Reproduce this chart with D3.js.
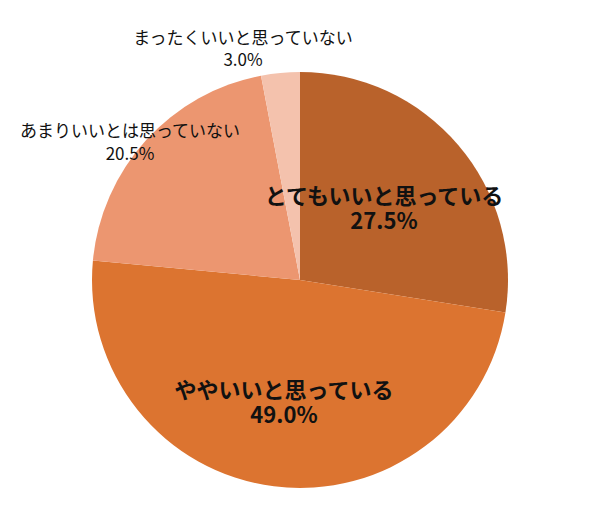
<!DOCTYPE html>
<html>
<head>
<meta charset="utf-8">
<script src="https://cdn.jsdelivr.net/npm/d3@7"></script>
<style>
  body { margin: 0; background: #fff; }
  text { font-family: "Noto Sans CJK JP", "Noto Sans", sans-serif; fill: #111; }
</style>
</head>
<body>
<div id="pie-chart"></div>
<script>
var width = 600;
var height = 512;

var categories = ["とてもいいと思っている", "ややいいと思っている", "あまりいいとは思っていない", "まったくいいと思っていない"];
var values = [27.5, 49.0, 20.5, 3.0];
var colors = ["#b9622b", "#dc7430", "#ec9670", "#f4c2ad"];

var cx = 300, cy = 280, radius = 208;

var svg = d3.select("#pie-chart")
    .append("svg")
    .attr("width", width)
    .attr("height", height);

var canvas = svg.append("g")
    .attr("transform", "translate(" + cx + "," + cy + ")");

var pie = d3.pie().sort(null).value(function(d){ return d; });
var arc = d3.arc().innerRadius(0).outerRadius(radius);
var arcs = pie(values);

canvas.selectAll("path")
    .data(arcs)
    .enter()
        .append("path")
        .attr("d", arc)
        .attr("fill", function(d,i){ return colors[i]; });

// label placement: inside for big slices, outside for small ones
var labelPos = [
    { x: 84, y: -76, size: 22, dy: 25, bold: true },
    { x: -16, y: 118, size: 22, dy: 25, bold: true },
    { x: -170, y: -143, size: 17, dy: 23, bold: false },
    { x: -57, y: -236, size: 17, dy: 22, bold: false }
];

var labels = canvas.append("g").selectAll("text")
    .data(arcs)
    .enter()
        .append("text")
        .attr("text-anchor", "middle")
        .attr("x", function(d,i){ return labelPos[i].x; })
        .attr("y", function(d,i){ return labelPos[i].y; })
        .attr("font-size", function(d,i){ return labelPos[i].size; })
        .attr("font-weight", function(d,i){ return labelPos[i].bold ? "bold" : "normal"; });

labels.append("tspan")
    .attr("x", function(d,i){ return labelPos[i].x; })
    .text(function(d,i){ return categories[i]; });

labels.append("tspan")
    .attr("x", function(d,i){ return labelPos[i].x; })
    .attr("dy", function(d,i){ return labelPos[i].dy; })
    .text(function(d){ return d.data.toFixed(1) + "%"; });
</script>
</body>
</html>
